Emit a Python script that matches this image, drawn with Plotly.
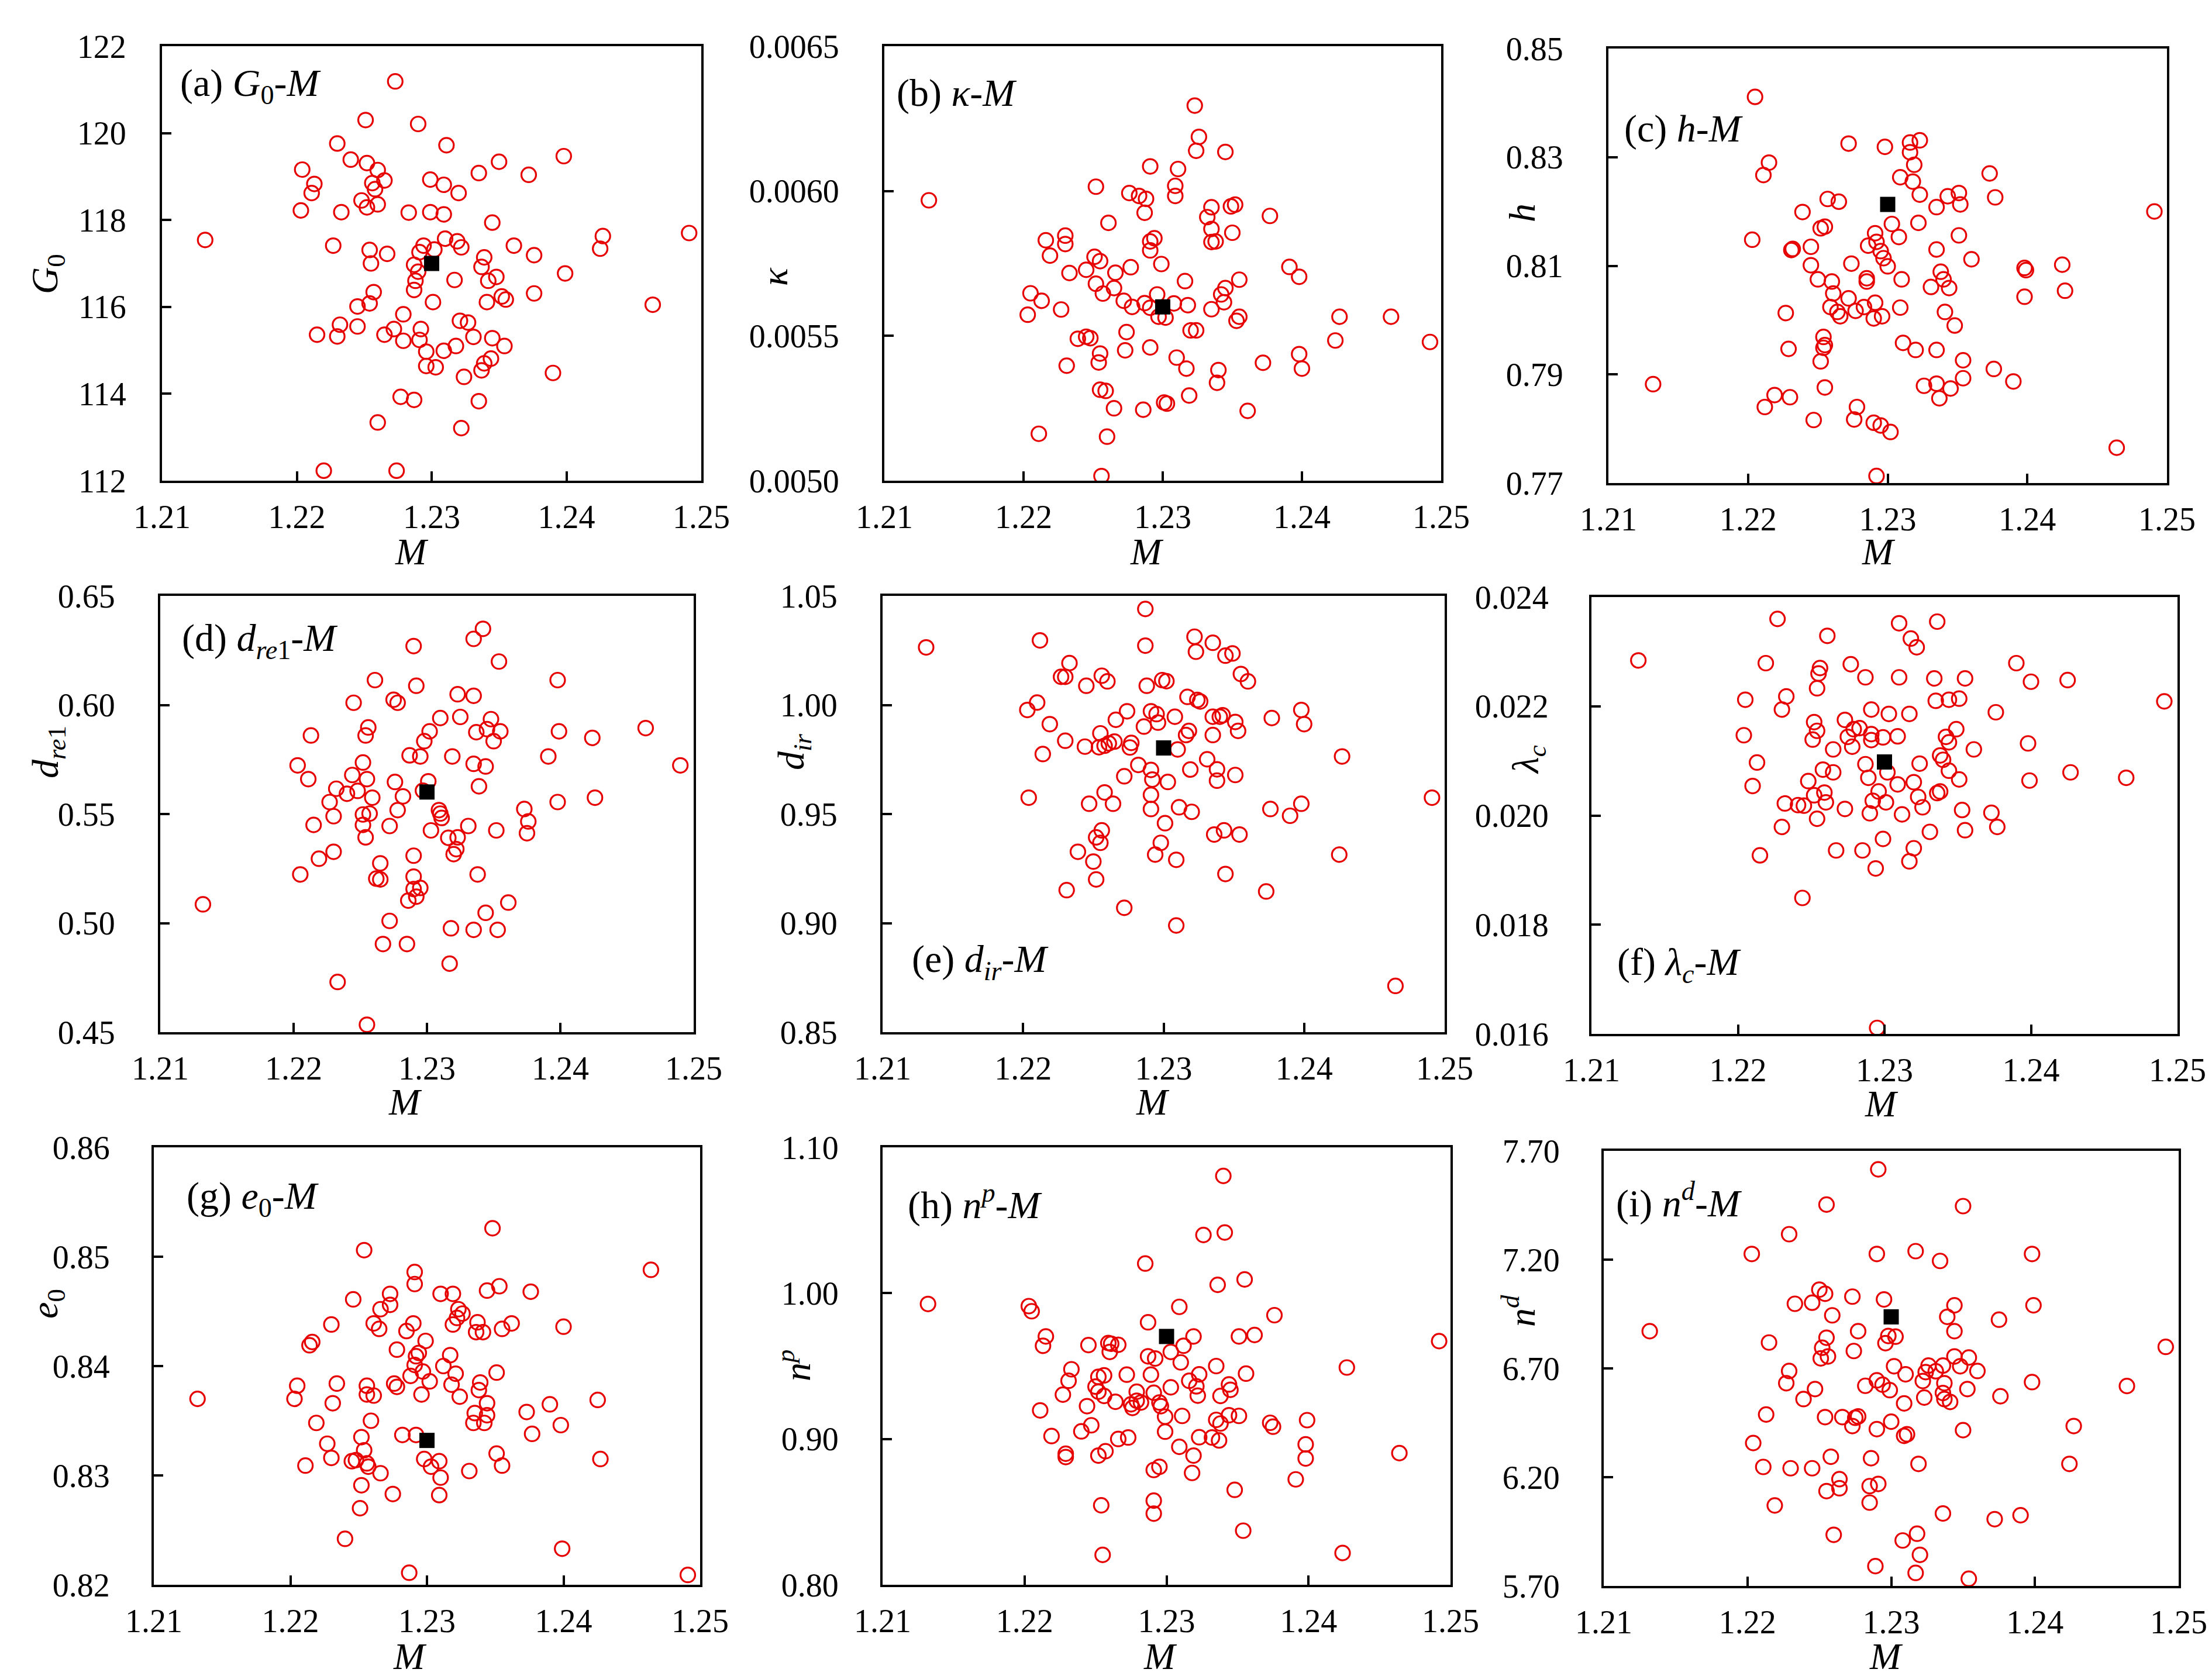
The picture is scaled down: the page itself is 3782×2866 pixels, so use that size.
import plotly.graph_objects as go

FONT = "Liberation Serif"
RED = "#E60000"
W, H = 3782, 2866

# ---------------- data ----------------
x_ticks = [1.21, 1.22, 1.23, 1.24, 1.25]

# (a) G0 - M
m_a = [1.2273, 1.2251, 1.2290, 1.2230, 1.2311, 1.2240, 1.2252, 1.2204, 1.2260, 1.2350,
       1.2398, 1.2335, 1.2372, 1.2213, 1.2211, 1.2256, 1.2265, 1.2258, 1.2299, 1.2309,
       1.2320, 1.2248, 1.2252, 1.2260, 1.2203, 1.2233, 1.2283, 1.2299, 1.2309, 1.2345,
       1.2132, 1.2227, 1.2254, 1.2255, 1.2267, 1.2310, 1.2319, 1.2322, 1.2294, 1.2291,
       1.2302, 1.2361, 1.2376, 1.2339, 1.2337, 1.2425, 1.2427, 1.2491, 1.2287, 1.2290,
       1.2288, 1.2287, 1.2317, 1.2348, 1.2342, 1.2399, 1.2257, 1.2254, 1.2245, 1.2301,
       1.2341, 1.2352, 1.2355, 1.2376, 1.2464, 1.2279, 1.2232, 1.2245, 1.2215, 1.2230,
       1.2265, 1.2272, 1.2279, 1.2292, 1.2291, 1.2321, 1.2327, 1.2331, 1.2345, 1.2354,
       1.2318, 1.2309, 1.2296, 1.2296, 1.2303, 1.2344, 1.2339, 1.2337, 1.2324, 1.2390,
       1.2277, 1.2287, 1.2335, 1.2260, 1.2322, 1.2220, 1.2274]
g0 = [121.19, 120.30, 120.21, 119.76, 119.72, 119.39, 119.31, 119.16, 119.15, 119.34,
      119.47, 119.08, 119.04, 118.83, 118.62, 118.85, 118.91, 118.71, 118.93, 118.81,
      118.62, 118.45, 118.29, 118.36, 118.22, 118.18, 118.17, 118.18, 118.13, 117.94,
      117.54, 117.41, 117.31, 117.00, 117.22, 117.57, 117.51, 117.37, 117.41, 117.26,
      117.32, 117.41, 117.19, 117.14, 116.92, 117.34, 117.63, 117.70, 116.97, 116.81,
      116.60, 116.39, 116.62, 116.69, 116.60, 116.77, 116.34, 116.08, 116.01, 116.11,
      116.11, 116.24, 116.17, 116.31, 116.05, 115.83, 115.59, 115.55, 115.36, 115.32,
      115.36, 115.49, 115.22, 115.49, 115.24, 115.68, 115.64, 115.31, 115.28, 115.10,
      115.10, 114.99, 114.97, 114.64, 114.61, 114.81, 114.70, 114.54, 114.39, 114.48,
      113.93, 113.86, 113.83, 113.34, 113.21, 112.23, 112.23]

# (b) kappa - M
m_b = [1.2323, 1.2326, 1.2324, 1.2345, 1.2291, 1.2311, 1.2309, 1.2309, 1.2252, 1.2132,
       1.2276, 1.2283, 1.2288, 1.2287, 1.2335, 1.2332, 1.2349, 1.2352, 1.2377, 1.2261,
       1.2335, 1.2350, 1.2216, 1.2230, 1.2230, 1.2219, 1.2291, 1.2294, 1.2291, 1.2335,
       1.2338, 1.2251, 1.2255, 1.2299, 1.2277, 1.2233, 1.2245, 1.2266, 1.2391, 1.2398,
       1.2316, 1.2355, 1.2252, 1.2265, 1.2345, 1.2342, 1.2205, 1.2213, 1.2257, 1.2272,
       1.2296, 1.2278, 1.2287, 1.2291, 1.2308, 1.2318, 1.2344, 1.2335, 1.2227, 1.2203,
       1.2297, 1.2302, 1.2355, 1.2353, 1.2427, 1.2464, 1.2274, 1.2320, 1.2324, 1.2239,
       1.2245, 1.2248, 1.2424, 1.2492, 1.2291, 1.2273, 1.2255, 1.2254, 1.2231, 1.2310,
       1.2317, 1.2340, 1.2339, 1.2372, 1.2398, 1.2400, 1.2255, 1.2259, 1.2319, 1.2301,
       1.2303, 1.2265, 1.2286, 1.2361, 1.2211, 1.2260, 1.2256]
kappa = [0.006295, 0.006187, 0.006139, 0.006135, 0.006085, 0.006076, 0.006018, 0.005983,
         0.006015, 0.005968, 0.005993, 0.005983, 0.005973, 0.005925, 0.005944, 0.005910,
         0.005947, 0.005953, 0.005914, 0.005890, 0.005869, 0.005856, 0.005830, 0.005846,
         0.005817, 0.005777, 0.005826, 0.005837, 0.005795, 0.005824, 0.005826, 0.005773,
         0.005758, 0.005748, 0.005737, 0.005717, 0.005728, 0.005718, 0.005738, 0.005704,
         0.005689, 0.005694, 0.005680, 0.005665, 0.005665, 0.005643, 0.005647, 0.005621,
         0.005646, 0.005621, 0.005643, 0.005600, 0.005613, 0.005597, 0.005612, 0.005606,
         0.005616, 0.005592, 0.005591, 0.005573, 0.005566, 0.005563, 0.005566, 0.005552,
         0.005566, 0.005566, 0.005513, 0.005519, 0.005519, 0.005490, 0.005497, 0.005492,
         0.005484, 0.005479, 0.005460, 0.005450, 0.005439, 0.005408, 0.005397, 0.005425,
         0.005387, 0.005382, 0.005338, 0.005407, 0.005437, 0.005387, 0.005314, 0.005310,
         0.005294, 0.005270, 0.005266, 0.005250, 0.005245, 0.005241, 0.005162, 0.005152,
         0.005016]

# (c) h - M
m_c = [1.2205, 1.2272, 1.2298, 1.2316, 1.2323, 1.2316, 1.2319, 1.2215, 1.2211, 1.2373,
       1.2309, 1.2318, 1.2323, 1.2377, 1.2343, 1.2351, 1.2352, 1.2335, 1.2257, 1.2265,
       1.2239, 1.2491, 1.2252, 1.2255, 1.2303, 1.2322, 1.2308, 1.2351, 1.2203, 1.2291,
       1.2292, 1.2286, 1.2295, 1.2245, 1.2231, 1.2232, 1.2335, 1.2360, 1.2297, 1.2300,
       1.2245, 1.2274, 1.2398, 1.2399, 1.2425, 1.2250, 1.2260, 1.2285, 1.2285, 1.2310,
       1.2338, 1.2340, 1.2331, 1.2344, 1.2261, 1.2272, 1.2427, 1.2398, 1.2291, 1.2259,
       1.2264, 1.2266, 1.2277, 1.2283, 1.2309, 1.2227, 1.2290, 1.2296, 1.2341, 1.2348,
       1.2254, 1.2255, 1.2254, 1.2311, 1.2320, 1.2335, 1.2229, 1.2252, 1.2354, 1.2376,
       1.2354, 1.2132, 1.2255, 1.2326, 1.2335, 1.2345, 1.2337, 1.2390, 1.2219, 1.2230,
       1.2212, 1.2278, 1.2247, 1.2276, 1.2290, 1.2295, 1.2302, 1.2464, 1.2292]
h = [0.8411, 0.8325, 0.8319, 0.8327, 0.8331, 0.8309, 0.8286, 0.8290, 0.8267, 0.8270,
     0.8263, 0.8255, 0.8231, 0.8226, 0.8228, 0.8234, 0.8213, 0.8208, 0.8223, 0.8218,
     0.8199, 0.8200, 0.8169, 0.8172, 0.8177, 0.8179, 0.8153, 0.8156, 0.8148, 0.8160,
     0.8144, 0.8137, 0.8127, 0.8135, 0.8129, 0.8131, 0.8130, 0.8112, 0.8114, 0.8099,
     0.8101, 0.8104, 0.8096, 0.8092, 0.8102, 0.8075, 0.8071, 0.8077, 0.8071, 0.8075,
     0.8089, 0.8075, 0.8061, 0.8059, 0.8049, 0.8040, 0.8054, 0.8043, 0.8032, 0.8024,
     0.8015, 0.8007, 0.8017, 0.8024, 0.8023, 0.8013, 0.8003, 0.8007, 0.8015, 0.7990,
     0.7969, 0.7954, 0.7949, 0.7958, 0.7945, 0.7945, 0.7947, 0.7924, 0.7926, 0.7910,
     0.7893, 0.7882, 0.7876, 0.7879, 0.7883, 0.7874, 0.7856, 0.7887, 0.7862, 0.7858,
     0.7840, 0.7840, 0.7816, 0.7817, 0.7811, 0.7806, 0.7794, 0.7765, 0.7713]

# (d) d_re1 - M
m_d = [1.2342, 1.2335, 1.2290, 1.2354, 1.2261, 1.2398, 1.2292, 1.2323, 1.2335, 1.2245,
       1.2275, 1.2278, 1.2310, 1.2325, 1.2348, 1.2256, 1.2254, 1.2213, 1.2302, 1.2298,
       1.2337, 1.2345, 1.2355, 1.2350, 1.2399, 1.2424, 1.2464, 1.2287, 1.2295, 1.2319,
       1.2391, 1.2203, 1.2252, 1.2335, 1.2344, 1.2490, 1.2211, 1.2244, 1.2255, 1.2276,
       1.2301, 1.2232, 1.2248, 1.2240, 1.2259, 1.2282, 1.2297, 1.2339, 1.2227, 1.2230,
       1.2252, 1.2257, 1.2278, 1.2309, 1.2310, 1.2311, 1.2373, 1.2376, 1.2398, 1.2426,
       1.2215, 1.2252, 1.2272, 1.2303, 1.2331, 1.2352, 1.2375, 1.2254, 1.2316, 1.2323,
       1.2320, 1.2322, 1.2230, 1.2219, 1.2290, 1.2265, 1.2205, 1.2262, 1.2265, 1.2290,
       1.2338, 1.2290, 1.2295, 1.2286, 1.2292, 1.2132, 1.2361, 1.2344, 1.2272, 1.2318,
       1.2335, 1.2353, 1.2267, 1.2285, 1.2317, 1.2233, 1.2255]
d_re1 = [0.6349, 0.6303, 0.6270, 0.6199, 0.6114, 0.6114, 0.6088, 0.6049, 0.6042, 0.6010,
         0.6024, 0.6010, 0.5940, 0.5945, 0.5935, 0.5897, 0.5860, 0.5860, 0.5879, 0.5834,
         0.5875, 0.5889, 0.5879, 0.5834, 0.5879, 0.5849, 0.5894, 0.5769, 0.5764, 0.5764,
         0.5764, 0.5723, 0.5736, 0.5730, 0.5718, 0.5723, 0.5660, 0.5679, 0.5660, 0.5647,
         0.5650, 0.5616, 0.5606, 0.5593, 0.5575, 0.5581, 0.5607, 0.5627, 0.5555, 0.5490,
         0.5498, 0.5502, 0.5518, 0.5518, 0.5502, 0.5482, 0.5523, 0.5466, 0.5555, 0.5575,
         0.5450, 0.5450, 0.5445, 0.5425, 0.5445, 0.5425, 0.5412, 0.5393, 0.5391, 0.5393,
         0.5316, 0.5339, 0.5327, 0.5295, 0.5309, 0.5274, 0.5223, 0.5204, 0.5200, 0.5213,
         0.5223, 0.5156, 0.5161, 0.5103, 0.5121, 0.5086, 0.5094, 0.5047, 0.5010, 0.4976,
         0.4969, 0.4969, 0.4904, 0.4904, 0.4814, 0.4730, 0.4534]

# (e) d_ir - M
m_e = [1.2287, 1.2131, 1.2212, 1.2287, 1.2322, 1.2323, 1.2335, 1.2344, 1.2349, 1.2233,
       1.2227, 1.2230, 1.2256, 1.2260, 1.2245, 1.2288, 1.2299, 1.2302, 1.2355, 1.2360,
       1.2210, 1.2203, 1.2317, 1.2324, 1.2326, 1.2219, 1.2274, 1.2266, 1.2291, 1.2295,
       1.2296, 1.2308, 1.2286, 1.2335, 1.2340, 1.2342, 1.2351, 1.2353, 1.2377, 1.2398,
       1.2400, 1.2318, 1.2316, 1.2335, 1.2230, 1.2214, 1.2244, 1.2255, 1.2254, 1.2258,
       1.2261, 1.2265, 1.2277, 1.2276, 1.2310, 1.2282, 1.2291, 1.2292, 1.2303, 1.2319,
       1.2331, 1.2338, 1.2338, 1.2351, 1.2272, 1.2427, 1.2204, 1.2258, 1.2247, 1.2264,
       1.2291, 1.2291, 1.2311, 1.2320, 1.2301, 1.2376, 1.2390, 1.2398, 1.2491, 1.2256,
       1.2252, 1.2255, 1.2298, 1.2336, 1.2343, 1.2354, 1.2239, 1.2250, 1.2294, 1.2309,
       1.2425, 1.2252, 1.2344, 1.2231, 1.2373, 1.2272, 1.2309, 1.2465]
d_ir = [1.0440, 1.0264, 1.0296, 1.0272, 1.0313, 1.0244, 1.0285, 1.0226, 1.0236, 1.0192,
        1.0129, 1.0129, 1.0134, 1.0108, 1.0088, 1.0088, 1.0114, 1.0109, 1.0142, 1.0108,
        1.0011, 0.9977, 1.0037, 1.0023, 1.0016, 0.9912, 0.9971, 0.9932, 0.9971, 0.9958,
        0.9919, 0.9946, 0.9901, 0.9946, 0.9946, 0.9953, 0.9922, 0.9881, 0.9940, 0.9977,
        0.9912, 0.9881, 0.9862, 0.9862, 0.9836, 0.9775, 0.9809, 0.9870, 0.9806, 0.9813,
        0.9824, 0.9832, 0.9826, 0.9805, 0.9796, 0.9725, 0.9702, 0.9658, 0.9647, 0.9704,
        0.9751, 0.9705, 0.9653, 0.9679, 0.9673, 0.9764, 0.9575, 0.9599, 0.9547, 0.9547,
        0.9588, 0.9523, 0.9531, 0.9510, 0.9458, 0.9523, 0.9492, 0.9547, 0.9575, 0.9425,
        0.9393, 0.9368, 0.9368, 0.9406, 0.9425, 0.9406, 0.9327, 0.9282, 0.9314, 0.9290,
        0.9314, 0.9200, 0.9225, 0.9151, 0.9145, 0.9070, 0.8989, 0.8712]

# (f) lambda_c - M
m_f = [1.2227, 1.2310, 1.2336, 1.2261, 1.2318, 1.2322, 1.2132, 1.2219, 1.2277, 1.2256,
       1.2255, 1.2390, 1.2287, 1.2310, 1.2334, 1.2355, 1.2400, 1.2425, 1.2254, 1.2233,
       1.2205, 1.2230, 1.2335, 1.2344, 1.2351, 1.2491, 1.2291, 1.2303, 1.2317, 1.2376,
       1.2252, 1.2273, 1.2254, 1.2279, 1.2283, 1.2349, 1.2204, 1.2251, 1.2275, 1.2291,
       1.2291, 1.2299, 1.2309, 1.2342, 1.2344, 1.2278, 1.2265, 1.2361, 1.2398, 1.2213,
       1.2338, 1.2340, 1.2287, 1.2324, 1.2258, 1.2265, 1.2302, 1.2344, 1.2289, 1.2351,
       1.2399, 1.2427, 1.2465, 1.2210, 1.2248, 1.2309, 1.2320, 1.2252, 1.2259, 1.2260,
       1.2296, 1.2323, 1.2336, 1.2338, 1.2232, 1.2241, 1.2245, 1.2292, 1.2301, 1.2326,
       1.2273, 1.2290, 1.2312, 1.2353, 1.2373, 1.2254, 1.2230, 1.2331, 1.2355, 1.2377,
       1.2299, 1.2267, 1.2285, 1.2320, 1.2317, 1.2215, 1.2294, 1.2244, 1.2295]
lam_c = [0.02360, 0.02352, 0.02355, 0.02329, 0.02324, 0.02308, 0.02284, 0.02279, 0.02277,
         0.02270, 0.02260, 0.02279, 0.02253, 0.02253, 0.02251, 0.02251, 0.02245, 0.02248,
         0.02233, 0.02218, 0.02212, 0.02194, 0.02210, 0.02212, 0.02214, 0.02209, 0.02194,
         0.02186, 0.02186, 0.02189, 0.02171, 0.02175, 0.02155, 0.02158, 0.02160, 0.02158,
         0.02147, 0.02139, 0.02144, 0.02149, 0.02138, 0.02143, 0.02145, 0.02144, 0.02134,
         0.02126, 0.02121, 0.02121, 0.02132, 0.02097, 0.02110, 0.02102, 0.02094, 0.02095,
         0.02084, 0.02079, 0.02079, 0.02082, 0.02069, 0.02066, 0.02064, 0.02079, 0.02069,
         0.02054, 0.02063, 0.02057, 0.02061, 0.02037, 0.02042, 0.02024, 0.02044, 0.02034,
         0.02041, 0.02044, 0.02022, 0.02019, 0.02018, 0.02027, 0.02024, 0.02015, 0.02012,
         0.02004, 0.02002, 0.02010, 0.02005, 0.01994, 0.01979, 0.01970, 0.01973, 0.01979,
         0.01957, 0.01936, 0.01936, 0.01940, 0.01916, 0.01927, 0.01903, 0.01849, 0.01611]

# (g) e0 - M
m_g = [1.2348, 1.2254, 1.2464, 1.2291, 1.2291, 1.2344, 1.2353, 1.2376, 1.2246, 1.2273,
       1.2273, 1.2266, 1.2310, 1.2319, 1.2323, 1.2326, 1.2322, 1.2230, 1.2261, 1.2265,
       1.2290, 1.2285, 1.2319, 1.2337, 1.2336, 1.2341, 1.2355, 1.2362, 1.2400, 1.2214,
       1.2216, 1.2299, 1.2278, 1.2294, 1.2292, 1.2317, 1.2291, 1.2312, 1.2297, 1.2288,
       1.2321, 1.2351, 1.2302, 1.2205, 1.2234, 1.2276, 1.2278, 1.2318, 1.2339, 1.2338,
       1.2256, 1.2256, 1.2261, 1.2296, 1.2324, 1.2132, 1.2203, 1.2425, 1.2231, 1.2344,
       1.2390, 1.2373, 1.2335, 1.2344, 1.2334, 1.2342, 1.2219, 1.2259, 1.2398, 1.2282,
       1.2292, 1.2252, 1.2377, 1.2227, 1.2254, 1.2230, 1.2245, 1.2248, 1.2256, 1.2257,
       1.2298, 1.2309, 1.2303, 1.2351, 1.2355, 1.2427, 1.2211, 1.2266, 1.2331, 1.2310,
       1.2252, 1.2275, 1.2309, 1.2251, 1.2240, 1.2399, 1.2287, 1.2491]
e0 = [0.8526, 0.8506, 0.8488, 0.8486, 0.8475, 0.8469, 0.8473, 0.8468, 0.8461, 0.8466,
      0.8456, 0.8452, 0.8466, 0.8466, 0.8452, 0.8448, 0.8444, 0.8438, 0.8439, 0.8434,
      0.8439, 0.8432, 0.8438, 0.8440, 0.8431, 0.8431, 0.8434, 0.8439, 0.8436, 0.8419,
      0.8422, 0.8423, 0.8415, 0.8412, 0.8409, 0.8410, 0.8401, 0.8400, 0.8395, 0.8391,
      0.8393, 0.8394, 0.8386, 0.8382, 0.8384, 0.8384, 0.8381, 0.8383, 0.8385, 0.8378,
      0.8382, 0.8374, 0.8373, 0.8374, 0.8372, 0.8370, 0.8370, 0.8369, 0.8366, 0.8366,
      0.8365, 0.8358, 0.8357, 0.8355, 0.8348, 0.8348, 0.8348, 0.8350, 0.8346, 0.8337,
      0.8337, 0.8335, 0.8338, 0.8329, 0.8323, 0.8316, 0.8313, 0.8314, 0.8311, 0.8308,
      0.8315, 0.8313, 0.8308, 0.8320, 0.8309, 0.8315, 0.8309, 0.8302, 0.8304, 0.8298,
      0.8291, 0.8283, 0.8282, 0.8270, 0.8242, 0.8233, 0.8211, 0.8209]

# (h) n^p - M
m_h = [1.2340, 1.2326, 1.2341, 1.2285, 1.2355, 1.2336, 1.2132, 1.2203, 1.2205, 1.2309,
       1.2376, 1.2287, 1.2215, 1.2213, 1.2245, 1.2259, 1.2261, 1.2266, 1.2260, 1.2319,
       1.2312, 1.2303, 1.2351, 1.2362, 1.2492, 1.2287, 1.2292, 1.2310, 1.2335, 1.2427,
       1.2233, 1.2231, 1.2252, 1.2256, 1.2272, 1.2289, 1.2323, 1.2356, 1.2316, 1.2321,
       1.2344, 1.2345, 1.2303, 1.2250, 1.2252, 1.2256, 1.2227, 1.2279, 1.2291, 1.2322,
       1.2338, 1.2264, 1.2279, 1.2282, 1.2275, 1.2276, 1.2295, 1.2296, 1.2244, 1.2211,
       1.2299, 1.2311, 1.2344, 1.2351, 1.2335, 1.2338, 1.2373, 1.2375, 1.2399, 1.2247,
       1.2240, 1.2299, 1.2219, 1.2266, 1.2273, 1.2323, 1.2332, 1.2337, 1.2398, 1.2309,
       1.2229, 1.2229, 1.2252, 1.2257, 1.2319, 1.2398, 1.2464, 1.2291, 1.2295, 1.2318,
       1.2391, 1.2348, 1.2254, 1.2291, 1.2291, 1.2354, 1.2255, 1.2424]
n_p = [1.0804, 1.0399, 1.0416, 1.0203, 1.0094, 1.0057, 0.9926, 0.9911, 0.9876, 0.9906,
       0.9849, 0.9800, 0.9703, 0.9639, 0.9644, 0.9658, 0.9653, 0.9646, 0.9597, 0.9703,
       0.9639, 0.9597, 0.9703, 0.9713, 0.9671, 0.9567, 0.9552, 0.9525, 0.9500, 0.9490,
       0.9478, 0.9399, 0.9426, 0.9436, 0.9441, 0.9441, 0.9443, 0.9448, 0.9399, 0.9361,
       0.9374, 0.9337, 0.9354, 0.9359, 0.9324, 0.9295, 0.9304, 0.9324, 0.9317, 0.9297,
       0.9295, 0.9255, 0.9262, 0.9250, 0.9238, 0.9213, 0.9250, 0.9225, 0.9225, 0.9196,
       0.9153, 0.9158, 0.9163, 0.9158, 0.9131, 0.9106, 0.9111, 0.9084, 0.9129, 0.9094,
       0.9052, 0.9050, 0.9020, 0.9000, 0.9010, 0.9012, 0.9010, 0.8990, 0.8963, 0.8946,
       0.8899, 0.8876, 0.8886, 0.8916, 0.8886, 0.8866, 0.8903, 0.8787, 0.8809, 0.8767,
       0.8723, 0.8651, 0.8545, 0.8577, 0.8488, 0.8371, 0.8205, 0.8218]

# (i) n^d - M
m_i = [1.2291, 1.2255, 1.2350, 1.2229, 1.2203, 1.2290, 1.2317, 1.2334, 1.2398, 1.2250,
       1.2254, 1.2273, 1.2295, 1.2233, 1.2245, 1.2344, 1.2399, 1.2259, 1.2339, 1.2375,
       1.2132, 1.2277, 1.2344, 1.2255, 1.2298, 1.2303, 1.2296, 1.2215, 1.2252, 1.2274,
       1.2491, 1.2251, 1.2256, 1.2344, 1.2354, 1.2302, 1.2348, 1.2326, 1.2336, 1.2324,
       1.2331, 1.2360, 1.2229, 1.2310, 1.2322, 1.2337, 1.2398, 1.2227, 1.2290, 1.2294,
       1.2299, 1.2282, 1.2247, 1.2353, 1.2464, 1.2239, 1.2323, 1.2336, 1.2337, 1.2341,
       1.2376, 1.2309, 1.2213, 1.2254, 1.2266, 1.2275, 1.2277, 1.2273, 1.2300, 1.2290,
       1.2309, 1.2311, 1.2350, 1.2427, 1.2204, 1.2258, 1.2286, 1.2319, 1.2424, 1.2211,
       1.2230, 1.2245, 1.2264, 1.2264, 1.2255, 1.2285, 1.2291, 1.2219, 1.2285, 1.2336,
       1.2372, 1.2390, 1.2260, 1.2308, 1.2318, 1.2320, 1.2289, 1.2317, 1.2354]
n_d = [7.615, 7.453, 7.446, 7.317, 7.226, 7.226, 7.239, 7.194, 7.226, 7.062,
       7.043, 7.030, 7.017, 6.997, 7.002, 6.990, 6.990, 6.944, 6.937, 6.924,
       6.871, 6.871, 6.871, 6.841, 6.849, 6.846, 6.816, 6.819, 6.795, 6.780,
       6.799, 6.746, 6.755, 6.755, 6.750, 6.710, 6.710, 6.713, 6.713, 6.683,
       6.687, 6.688, 6.688, 6.673, 6.642, 6.632, 6.637, 6.632, 6.645, 6.625,
       6.600, 6.620, 6.605, 6.605, 6.619, 6.559, 6.566, 6.587, 6.559, 6.546,
       6.572, 6.539, 6.488, 6.476, 6.476, 6.473, 6.479, 6.435, 6.455, 6.421,
       6.390, 6.397, 6.416, 6.435, 6.357, 6.294, 6.287, 6.261, 6.261, 6.247,
       6.241, 6.241, 6.191, 6.149, 6.136, 6.159, 6.169, 6.070, 6.083, 6.033,
       6.007, 6.025, 5.935, 5.909, 5.940, 5.843, 5.791, 5.760, 5.733]

# reference (black square) points
ref_m = [1.230, 1.230, 1.230, 1.230, 1.230, 1.230, 1.230, 1.230, 1.230]
ref_y = [117.0, 0.00560, 0.8213, 0.5601, 0.9803, 0.02098, 0.8332, 0.9703, 6.937]

# y tick values per panel
yt_a = [112, 114, 116, 118, 120, 122]
yt_b = [0.0050, 0.0055, 0.0060, 0.0065]
yt_c = [0.77, 0.79, 0.81, 0.83, 0.85]
yt_d = [0.45, 0.50, 0.55, 0.60, 0.65]
yt_e = [0.85, 0.90, 0.95, 1.00, 1.05]
yt_f = [0.016, 0.018, 0.020, 0.022, 0.024]
yt_g = [0.82, 0.83, 0.84, 0.85, 0.86]
yt_h = [0.80, 0.90, 1.00, 1.10]
yt_i = [5.70, 6.20, 6.70, 7.20, 7.70]

# ---------------- layout per panel (pixel boxes in the 3782x2866 page) ----------------
panels = [
    dict(m=m_a, y=g0, yt=yt_a, fmt="{:.0f}", ytitle="<i>G</i><sub>0</sub>",
         label="(a) <i>G</i><sub>0</sub>-<i>M</i>", box=(269, 1191, 71, 814), lab=(0.031, 0.091),
         yt_xy=(73, 461), xt_xy=(696, 935), gap=46),
    dict(m=m_b, y=kappa, yt=yt_b, fmt="{:.4f}", ytitle="<i>κ</i>",
         label="(b) <i>κ</i>-<i>M</i>", box=(1504, 2456, 71, 814), lab=(0.02, 0.107),
         yt_xy=(1317, 465), xt_xy=(1953, 935), gap=62),
    dict(m=m_c, y=h, yt=yt_c, fmt="{:.2f}", ytitle="<i>h</i>",
         label="(c) <i>h</i>-<i>M</i>", box=(2742, 3697, 75, 818), lab=(0.026, 0.184),
         yt_xy=(2594, 356), xt_xy=(3204, 935), gap=62),
    dict(m=m_d, y=d_re1, yt=yt_d, fmt="{:.2f}", ytitle="<i>d</i><sub><i>re</i>1</sub>",
         label="(d) <i>d</i><sub><i>re</i>1</sub>-<i>M</i>", box=(266, 1178, 1011, 1757), lab=(0.038, 0.102),
         yt_xy=(74, 1278), xt_xy=(685, 1876), gap=62),
    dict(m=m_e, y=d_ir, yt=yt_e, fmt="{:.2f}", ytitle="<i>d</i><sub><i>ir</i></sub>",
         label="(e) <i>d</i><sub><i>ir</i></sub>-<i>M</i>", box=(1501, 2462, 1011, 1757), lab=(0.05, 0.839),
         yt_xy=(1349, 1278), xt_xy=(1963, 1876), gap=62),
    dict(m=m_f, y=lam_c, yt=yt_f, fmt="{:.3f}", ytitle="<i>λ</i><sub><i>c</i></sub>",
         label="(f) <i>λ</i><sub><i>c</i></sub>-<i>M</i>", box=(2713, 3715, 1013, 1760), lab=(0.042, 0.842),
         yt_xy=(2605, 1291), xt_xy=(3209, 1879), gap=58),
    dict(m=m_g, y=e0, yt=yt_g, fmt="{:.2f}", ytitle="<i>e</i><sub>0</sub>",
         label="(g) <i>e</i><sub>0</sub>-<i>M</i>", box=(255, 1189, 1954, 2702), lab=(0.058, 0.117),
         yt_xy=(73, 2222), xt_xy=(693, 2824), gap=60),
    dict(m=m_h, y=n_p, yt=yt_h, fmt="{:.2f}", ytitle="<i>n</i><sup><i>p</i></sup>",
         label="(h) <i>n</i><sup><i>p</i></sup>-<i>M</i>", box=(1501, 2472, 1954, 2702), lab=(0.042, 0.125),
         yt_xy=(1350, 2327), xt_xy=(1976, 2824), gap=60),
    dict(m=m_i, y=n_d, yt=yt_i, fmt="{:.2f}", ytitle="<i>n</i><sup><i>d</i></sup>",
         label="(i) <i>n</i><sup><i>d</i></sup>-<i>M</i>", box=(2734, 3717, 1960, 2704), lab=(0.019, 0.114),
         yt_xy=(2589, 2234), xt_xy=(3217, 2824), gap=60),
]

fig = go.Figure()
annotations = []
tick_font = dict(family=FONT, size=56, color="black")

for k, p in enumerate(panels):
    assert len(p["m"]) == len(p["y"])
    suffix = "" if k == 0 else str(k + 1)
    l, r, t, b = p["box"]

    fig.add_trace(go.Scatter(
        x=p["m"], y=p["y"], mode="markers", xaxis="x" + suffix, yaxis="y" + suffix,
        marker=dict(symbol="circle-open", size=25, color=RED, line=dict(width=3.2, color=RED)),
        showlegend=False, hoverinfo="x+y",
    ))
    fig.add_trace(go.Scatter(
        x=[ref_m[k]], y=[ref_y[k]], mode="markers", xaxis="x" + suffix, yaxis="y" + suffix,
        marker=dict(symbol="square", size=26, color="black"),
        showlegend=False, hoverinfo="x+y",
    ))

    common = dict(showgrid=False, zeroline=False, showline=True, linecolor="black",
                  linewidth=4, mirror=True, ticks="inside", ticklen=16, tickwidth=4,
                  tickcolor="black", tickfont=tick_font, automargin=False)
    fig.layout["xaxis" + suffix] = dict(
        common, domain=[l / W, r / W], anchor="y" + suffix, range=[x_ticks[0], x_ticks[-1]],
        tickmode="array", tickvals=x_ticks, ticktext=["{:.2f}".format(v) for v in x_ticks],
        ticklabelstandoff=10,
    )
    fig.layout["yaxis" + suffix] = dict(
        common, domain=[1 - b / H, 1 - t / H], anchor="x" + suffix, range=[p["yt"][0], p["yt"][-1]],
        tickmode="array", tickvals=p["yt"], ticktext=[p["fmt"].format(v) for v in p["yt"]],
        ticklabelstandoff=p["gap"],
    )

    # panel label inside the box
    fx, fy = p["lab"]
    annotations.append(dict(
        text=p["label"], xref="paper", yref="paper",
        x=(l + fx * (r - l)) / W, y=1 - (t + fy * (b - t)) / H,
        xanchor="left", yanchor="middle", showarrow=False,
        font=dict(family=FONT, size=66, color="black"),
    ))
    # axis titles
    annotations.append(dict(
        text=p["ytitle"], xref="paper", yref="paper",
        x=p["yt_xy"][0] / W, y=1 - p["yt_xy"][1] / H, textangle=-90,
        xanchor="center", yanchor="middle", showarrow=False,
        font=dict(family=FONT, size=64, color="black"),
    ))
    annotations.append(dict(
        text="<i>M</i>", xref="paper", yref="paper",
        x=p["xt_xy"][0] / W, y=1 - p["xt_xy"][1] / H,
        xanchor="center", yanchor="middle", showarrow=False,
        font=dict(family=FONT, size=64, color="black"),
    ))

fig.update_layout(
    width=W, height=H, margin=dict(l=0, r=0, t=0, b=0),
    paper_bgcolor="white", plot_bgcolor="white",
    annotations=annotations,
)

fig.write_html("out.html")
